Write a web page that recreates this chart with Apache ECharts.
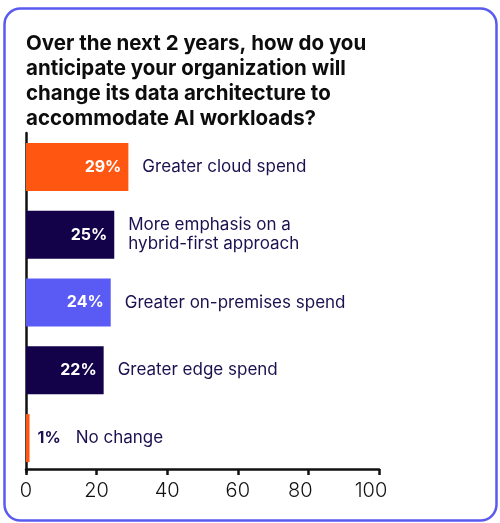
<!DOCTYPE html>
<html lang="en">
<head>
    <meta charset="UTF-8">
    <title>AI workloads - data architecture</title>
    <script src="https://cdn.jsdelivr.net/npm/echarts@6/dist/echarts.min.js"></script>
    <style>
        html, body { margin: 0; padding: 0; background: #fff; }
    </style>
</head>
<body>
    <div id="main" style="width: 500px;height:523px;"></div>
    <script type="text/javascript">
        // chart data
        const categories = [
            'Greater cloud spend',
            'More emphasis on a\nhybrid-first approach',
            'Greater on-premises spend',
            'Greater edge spend',
            'No change'
        ];
        const values = [29, 25, 24, 22, 1];
        const barColors = ['#ff5612', '#13024a', '#5a5af5', '#13024a', '#ff5612'];
        const xTicks = [0, 20, 40, 60, 80, 100];

        const FONT = 'Inter';
        const NAVY = '#1b1150';

        let myChart = echarts.init(document.getElementById('main'));

        let options = {
            backgroundColor: '#fff',
            animation: false,
            title: {
                text: 'Over the next 2 years, how do you\nanticipate your organization will\nchange its data architecture to\naccommodate AI workloads?',
                left: 21,
                top: 26,
                textStyle: {
                    fontFamily: FONT,
                    fontWeight: 'bold',
                    fontSize: 20.5,
                    lineHeight: 25,
                    color: '#0d0d0d'
                }
            },
            // rounded card border
            graphic: [{
                type: 'rect',
                left: 2,
                top: 6,
                shape: { width: 492, height: 512, r: 16 },
                style: { fill: 'none', stroke: '#5a5af0', lineWidth: 2.5 },
                silent: true,
                z: -1
            }],
            grid: { left: 26, right: 121, top: 133, bottom: 51 },
            xAxis: {
                type: 'value',
                min: xTicks[0],
                max: xTicks[xTicks.length - 1],
                interval: xTicks[1] - xTicks[0],
                offset: -3,
                splitLine: { show: false },
                axisLine: { show: true, lineStyle: { color: '#111', width: 2.5 } },
                axisTick: { show: true, length: 6, lineStyle: { color: '#111', width: 2.5 } },
                axisLabel: {
                    // the last two labels sit a little left of their ticks in the original
                    formatter: (v) => (v >= 80 ? '{s|' + v + '}' : '' + v),
                    rich: {
                        s: { fontFamily: FONT, fontWeight: 300, fontSize: 20, color: '#111', padding: [0, 16, 0, 0] }
                    },
                    fontFamily: FONT,
                    fontWeight: 300,
                    fontSize: 20,
                    color: '#111',
                    margin: 12
                }
            },
            yAxis: {
                type: 'category',
                inverse: true,
                data: categories,
                axisLine: { show: true, lineStyle: { color: '#111', width: 2.5 } },
                axisTick: { show: false },
                axisLabel: { show: false }
            },
            series: [
                {
                    type: 'bar',
                    barWidth: 48,
                    z: 3,
                    data: values.map((v, i) => ({ value: v, itemStyle: { color: barColors[i] } })),
                    label: {
                        show: true,
                        position: 'insideRight',
                        distance: 7,
                        formatter: (p) => (p.value < 5 ? '' : p.value + '%'),
                        fontFamily: FONT,
                        fontWeight: 'bold',
                        fontSize: 16,
                        color: '#fff'
                    }
                },
                {
                    // invisible twin bar, only there to carry the category text
                    type: 'bar',
                    barWidth: 48,
                    barGap: '-100%',
                    silent: true,
                    z: 2,
                    itemStyle: { color: 'transparent' },
                    data: values.map((v) => ({ value: v, label: v < 5 ? { distance: 8 } : {} })),
                    label: {
                        show: true,
                        position: 'right',
                        distance: 14,
                        formatter: (p) => {
                            let name = categories[p.dataIndex];
                            if (p.value < 5) return '{v|' + p.value + '%}{c|' + name + '}';
                            return '{c|' + name + '}';
                        },
                        rich: {
                            v: {
                                fontFamily: FONT, fontWeight: 'bold', fontSize: 16,
                                color: NAVY, padding: [0, 15, 0, 0]
                            },
                            c: {
                                fontFamily: FONT, fontSize: 17, lineHeight: 19, color: NAVY
                            }
                        }
                    }
                }
            ]
        };

        myChart.setOption(options);
    </script>
</body>
</html>
